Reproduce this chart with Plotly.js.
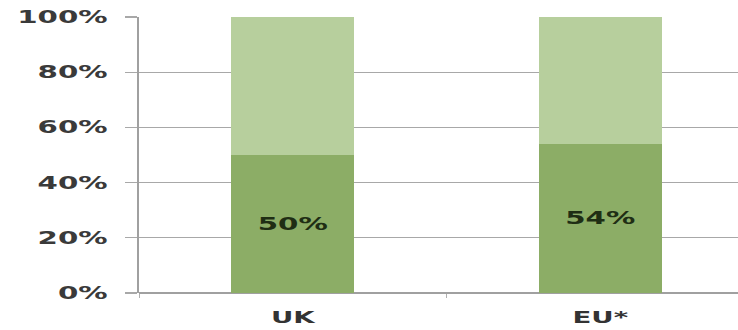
<!DOCTYPE html>
<html>
<head>
<meta charset="utf-8">
<script src="https://cdn.plot.ly/plotly-3.0.1.min.js"></script>
<style>
html,body{margin:0;padding:0;overflow:hidden;background:#fff;}
#chart{width:738px;height:330px;}
</style>
</head>
<body>
<div id="chart"></div>
<script>
var categories = ["UK", "EU*"];
var shareValues = [50, 54];
var remainderValues = [50, 46];
var shareLabels = ["50%", "54%"];
var yTickVals = [0, 20, 40, 60, 80, 100];
var yTickText = ["0%", "20%", "40%", "60%", "80%", "100%"];

var fontFamily = "DejaVu Sans, Verdana, sans-serif";
var stretch = 1.72;

var traces = [
  {
    type: "bar",
    x: categories,
    y: shareValues,
    text: shareLabels,
    textposition: "inside",
    insidetextanchor: "middle",
    textfont: {family: fontFamily, size: 17, color: "#1f2e14", weight: 700},
    marker: {color: "#8cad66"},
    width: 0.4,
    hoverinfo: "none"
  },
  {
    type: "bar",
    x: categories,
    y: remainderValues,
    textposition: "none",
    marker: {color: "#b7cf9d"},
    width: 0.4,
    hoverinfo: "none"
  }
];

var layout = {
  width: 738,
  height: 330,
  margin: {l: 139, r: 0, t: 17, b: 37},
  barmode: "stack",
  showlegend: false,
  paper_bgcolor: "#ffffff",
  plot_bgcolor: "#ffffff",
  xaxis: {
    type: "category",
    range: [-0.5, 1.448],
    showgrid: false,
    zeroline: false,
    showline: false,
    ticks: "outside",
    tickson: "boundaries",
    ticklen: 4,
    tickcolor: "#b0b0b0",
    tickfont: {family: fontFamily, size: 16, color: "#333333", weight: 700},
    ticklabelstandoff: 13
  },
  yaxis: {
    range: [0, 100],
    tickvals: yTickVals,
    ticktext: yTickText,
    showgrid: true,
    gridcolor: "#a8a8a8",
    gridwidth: 1.2,
    zeroline: true,
    zerolinecolor: "#a0a0a0",
    zerolinewidth: 1.5,
    showline: true,
    linecolor: "#a0a0a0",
    linewidth: 2,
    ticks: "outside",
    ticklen: 12,
    tickcolor: "#a8a8a8",
    tickwidth: 1.2,
    tickfont: {family: fontFamily, size: 17, color: "#3a3a3a", weight: 700},
    ticklabelstandoff: 14
  }
};

Plotly.newPlot("chart", traces, layout, {displayModeBar: false, staticPlot: true}).then(function (gd) {
  // The reference's lettering is horizontally wide; stretch glyphs to match.
  var nodes = gd.querySelectorAll(".xtick text, .ytick text, text.bartext");
  nodes.forEach(function (t) {
    var w = t.getComputedTextLength();
    if (w > 0) {
      t.setAttribute("textLength", (w * stretch).toFixed(1));
      t.setAttribute("lengthAdjust", "spacingAndGlyphs");
    }
  });
});
</script>
</body>
</html>
